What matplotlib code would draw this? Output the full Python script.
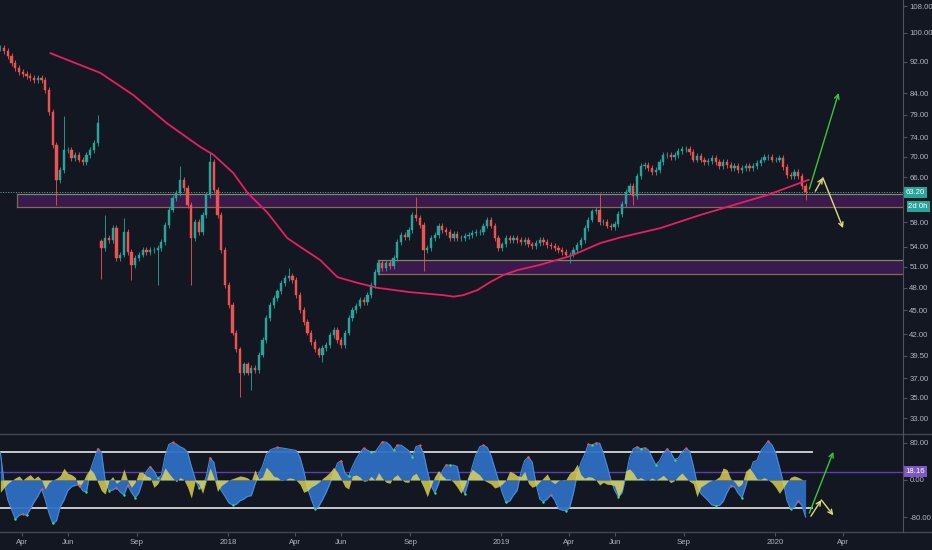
import numpy as np
import pandas as pd
import matplotlib
matplotlib.use('Agg')
import matplotlib.pyplot as plt
import matplotlib.dates as mdates
from matplotlib.lines import Line2D
from matplotlib.patches import Rectangle
from matplotlib.ticker import NullLocator

plt.rcParams['font.family'] = ['Liberation Sans', 'DejaVu Sans']

# one candle every 5 days starting 2017-03-03
closes = [95.7, 94.9, 93.5, 91.7, 90.4, 89.3, 88.8, 88.3, 87.8, 87.3,
          87.8, 87.3, 84.8, 79.6, 72.4, 65.5, 67.4, 71.4, 71.4, 69.8,
          70.4, 69.4, 69.0, 70.4, 71.4, 72.8, 77.1, 53.8, 55.4, 55.1,
          57.0, 52.3, 52.8, 56.4, 53.2, 51.3, 52.3, 52.8, 53.5, 53.2,
          53.5, 53.5, 53.8, 54.8, 57.5, 60.1, 62.2, 63.1, 65.5, 64.0,
          60.9, 55.4, 58.0, 56.4, 59.2, 62.7, 69.0, 63.6, 59.2, 53.5,
          48.4, 45.7, 42.2, 40.2, 37.6, 38.5, 37.6, 38.1, 37.9, 39.6,
          41.3, 44.0, 45.7, 46.6, 47.5, 48.7, 49.4, 49.7, 49.1, 47.0,
          45.0, 43.5, 42.2, 41.1, 40.2, 39.6, 40.4, 40.7, 41.9, 42.5,
          41.3, 40.7, 42.2, 44.0, 45.0, 45.6, 46.4, 46.1, 47.0, 48.4,
          50.2, 51.6, 50.8, 51.6, 51.1, 52.3, 54.8, 55.9, 55.6, 56.7,
          59.2, 58.7, 57.5, 53.5, 53.8, 55.4, 55.9, 57.4, 56.7, 56.4,
          55.4, 56.1, 55.4, 55.4, 55.7, 55.9, 56.2, 56.4, 56.4, 57.4,
          58.4, 57.4, 55.4, 53.8, 54.4, 55.4, 55.1, 55.4, 55.1, 54.8,
          55.1, 54.4, 54.1, 54.6, 55.1, 54.8, 54.3, 54.1, 53.8, 53.5,
          53.2, 52.8, 52.8, 53.5, 54.3, 55.1, 57.0, 58.4, 59.8, 60.1,
          58.0, 58.0, 57.4, 57.2, 57.7, 59.4, 61.1, 63.3, 64.3, 62.5,
          66.2, 68.2, 68.4, 67.8, 67.0, 67.4, 69.0, 70.4, 70.4, 70.0,
          70.4, 71.2, 71.6, 71.6, 71.0, 69.4, 70.2, 69.4, 69.0, 69.2,
          69.8, 69.0, 68.2, 69.0, 68.4, 67.8, 68.2, 67.4, 67.8, 68.2,
          67.8, 68.2, 68.8, 69.4, 70.0, 70.0, 69.4, 69.4, 69.8, 68.0,
          66.4, 66.2, 67.0, 66.2, 64.3, 63.2]
hi_spikes = {17: 78.6, 26: 79.0, 28: 59.2, 33: 58.7, 48: 68.2, 56: 70.8,
             77: 50.8, 111: 62.3, 160: 63.0}
lo_spikes = {15: 60.9, 27: 49.3, 35: 49.1, 42: 48.4, 51: 48.4, 64: 35.1,
             67: 35.8, 86: 38.8, 113: 50.4, 152: 51.6, 169: 60.9, 215: 61.8}
restarts = [27]

# moving average, position in candle steps and value
ma_idx = [13.4, 17.9, 26.7, 35.5, 44.6, 53.4, 56.9, 62.2, 66.0, 71.3, 76.6,
          80.1, 85.4, 90.0, 95.3, 100.7, 109.5, 118.3, 121.0, 123.6, 127.4,
          130.8, 134.3, 138.0, 144.2, 152.2, 160.2, 165.6, 176.2, 186.9,
          195.7, 204.8, 215.8]
ma_vals = [94.3, 92.5, 89.1, 83.6, 77.0, 72.0, 70.4, 66.8, 63.1, 59.6, 55.4,
           54.0, 52.0, 49.5, 48.7, 48.0, 47.4, 47.0, 46.8, 47.0, 47.7,
           48.8, 49.8, 50.5, 51.3, 52.6, 54.6, 55.5, 57.0, 59.2,
           60.9, 62.7, 65.5]

wt1 = [59.9, -5.7, -42.5, -63.4, -84.3, -76.4, -72.7, -76.4, -62.7, -47.5,
       -35.3, -19.4, -42.5, -71.3, -93.6, -87.9, -57.6, -43.2, -23.0, -14.4,
       -11.5, -10.0, -23.0, -26.6, 20.2, 43.3, 67.1, 59.9, -1.4, -23.0,
       -21.6, -16.5, -25.9, -32.4, -11.5, -26.6, -38.1, -27.3, -2.8, 18.1,
       28.9, 19.5, 4.4, 9.4, 51.9, 76.4, 80.8, 77.2, 71.4, 67.8,
       59.9, 29.6, 2.9, -16.5, -15.8, 8.0, 47.6, 38.2, -2.8, -23.0,
       -35.3, -49.0, -54.0, -52.6, -44.6, -41.0, -35.3, -33.8, -8.6, 13.0,
       29.6, 54.8, 64.2, 67.8, 70.0, 69.2, 67.8, 66.3, 64.9, 63.5,
       49.1, 20.2, -17.3, -41.0, -61.9, -56.9, -42.5, -26.6, -7.2, 13.0,
       36.1, 41.8, 15.2, 8.0, 28.9, 45.4, 58.4, 68.5, 64.2, 59.9,
       59.9, 70.7, 82.2, 81.5, 75.0, 64.2, 75.0, 75.0, 69.2, 63.5,
       50.5, 72.1, 74.3, 57.0, 20.2, -12.9, -27.3, -8.6, 19.5, 32.5,
       31.8, 31.8, 28.9, -8.6, -30.3, -3.6, 28.9, 54.8, 71.4, 75.0,
       70.0, 52.7, 26.0, -1.4, -27.3, -48.2, -45.4, -32.4, -22.3, 16.6,
       41.8, 49.8, 38.2, -7.2, -41.0, -46.8, -41.0, -31.7, -43.2, -61.9,
       -64.8, -66.3, -59.1, -28.8, 11.6, 36.8, 54.8, 77.2, 75.0, 79.3,
       79.3, 57.7, 30.3, 0.8, -21.6, -36.7, -27.3, 8.0, 48.3, 67.1,
       71.4, 67.1, 69.2, 64.9, 48.3, 32.5, 41.1, 57.0, 67.1, 59.1,
       44.0, 46.9, 59.9, 67.8, 62.7, 31.0, -6.4, -28.8, -36.7, -44.6,
       -54.0, -55.5, -54.7, -46.1, -27.3, -12.9, -15.1, -28.8, -38.1, -12.9,
       13.7, 39.0, 41.8, 62.7, 72.8, 83.6, 75.7, 58.4, 28.2, -3.6,
       -43.2, -62.7, -58.3, -45.4, -54.7, -80.0]
wt_diff = [-26.6, -16.5, -7.2, -1.4, 4.4, 8.7, 0.0, 6.5, 11.6, 2.9,
           8.7, 0.0, -19.4, -5.0, 0.0, 3.6, 9.4, 25.3, 14.5, 11.6,
           5.8, -15.8, -4.3, 13.0, 23.8, 14.5, -5.0, -23.0, -30.2, -1.4,
           7.3, -7.2, -1.4, 23.8, -1.4, -15.8, -5.0, 16.6, 16.6, 8.7,
           5.8, -15.8, -8.6, 7.3, 26.0, 14.5, 4.4, -3.6, 5.1, 0.8,
           -15.8, -38.9, -2.8, -8.6, -28.8, -1.4, 26.0, 5.8, -24.5, -12.2,
           -6.4, 0.0, 2.9, 5.8, 8.7, 7.3, 4.4, -1.4, 21.7, 2.2,
           6.5, 27.4, 18.8, 8.0, 5.8, -1.4, 0.0, 4.4, 3.6, -0.7,
           -9.3, -26.6, -23.0, -15.1, -10.8, -5.0, 2.9, 9.4, 16.6, 27.4,
           16.6, 2.2, -14.4, -19.4, 8.7, 10.9, 6.5, -2.8, -1.4, 8.0,
           0.0, 15.9, 3.6, -5.0, -7.2, 5.8, 11.6, 1.5, -4.3, -5.0,
           9.4, 14.5, 0.8, -15.8, -36.0, -12.2, 8.0, 20.2, 9.4, 2.2,
           2.2, -5.0, -15.8, -28.8, -12.2, 9.4, 23.1, 16.6, 10.9, 0.0,
           -4.3, -8.6, -17.3, -14.4, -8.6, 0.0, 18.8, 15.2, 9.4, 7.3,
           18.8, -7.2, -15.8, -12.2, -3.6, 4.4, 13.0, -2.1, -7.9, -1.4,
           0.8, 0.8, 14.5, 20.2, 33.9, 11.6, 3.6, 7.3, 5.8, 0.0,
           -10.8, -5.0, -9.3, -10.0, -12.2, -36.0, -21.6, 20.2, 23.8, 15.2,
           2.2, 5.1, 0.8, 0.0, 4.4, 0.0, 4.4, 10.1, 2.2, -5.7,
           -1.4, 8.0, 15.2, 5.8, -2.8, -7.9, -36.0, -15.1, -10.0, -4.3,
           -0.7, 1.5, 7.3, 26.0, 22.4, 2.9, -3.6, -14.4, -8.6, 18.8,
           26.0, 15.2, 2.2, 1.5, 5.1, 0.0, -5.7, -15.8, -28.8, -17.3,
           -5.0, 5.8, 8.7, 5.8, 1.5, -1.4]

# support zones: start date, low, high
zones = [('2017-03-25', 60.6, 62.8), ('2018-07-20', 49.9, 52.0)]

price_ticks = [108, 100, 92, 84, 79, 74, 70, 66, 58, 54, 51, 48, 45, 42, 39.5, 37, 35, 33]
last_price = 63.20
osc_ticks = [80, 0, -80]
osc_level = 18.16
ob_os = [60, -60]
month_ticks = ['2017-04-01', '2017-06-01', '2017-09-01', '2018-01-01', '2018-04-01',
               '2018-06-01', '2018-09-01', '2019-01-01', '2019-04-01', '2019-06-01',
               '2019-09-01', '2020-01-01', '2020-04-01']
month_labels = ['Apr', 'Jun', 'Sep', '2018', 'Apr', 'Jun', 'Sep', '2019', 'Apr', 'Jun',
                'Sep', '2020', 'Apr']

BG = '#131722'
TXT = '#b2b5be'
UP = '#26a69a'
DOWN = '#ef5350'
FS = 5.6

start = pd.Timestamp('2017-03-03')
dates = pd.date_range(start, periods=len(closes), freq='5D')
x = mdates.date2num(dates)
xlim = (mdates.date2num(pd.Timestamp('2017-03-02 14:00')), mdates.date2num(pd.Timestamp('2020-06-20')))

fig = plt.figure(figsize=(9.32, 5.5), dpi=100, facecolor=BG)
ax = fig.add_axes([0, 118 / 550, 903 / 932, 432 / 550], facecolor=BG)
ax2 = fig.add_axes([0, 18 / 550, 903 / 932, 98 / 550], facecolor=BG)

# candles
c = np.array(closes)
o = np.concatenate([[c[0]], c[:-1]])
for r in restarts:
    o[r] = c[r] * 1.02
top = np.maximum(o, c)
bot = np.minimum(o, c)
hi = top * 1.008
lo = bot / 1.008
for k, v in hi_spikes.items():
    hi[k] = v
for k, v in lo_spikes.items():
    lo[k] = v
cols = np.where(c >= o, UP, DOWN)
ax.vlines(x, lo, hi, colors=cols, lw=0.6, zorder=3)
ax.bar(x, top - bot, bottom=bot, width=3.0, color=cols, edgecolor=cols, lw=0.3, zorder=4)

# moving average
ma_x = mdates.date2num(start) + np.array(ma_idx) * 5
ax.plot(ma_x, ma_vals, color='#e91e63', lw=1.3, zorder=5)

# zones
for d0, z_lo, z_hi in zones:
    x0 = mdates.date2num(pd.Timestamp(d0))
    ax.add_patch(Rectangle((x0, z_lo), xlim[1] - x0, z_hi - z_lo, facecolor='#3a1a4c',
                           edgecolor='none', zorder=2))
    ax.plot([x0, xlim[1]], [z_hi, z_hi], color='#7c8a63', lw=0.9, zorder=2)
    ax.plot([x0, xlim[1]], [z_lo, z_lo], color='#8a6a4c', lw=0.9, zorder=2)
    ax.plot([x0, x0], [z_lo, z_hi], color='#7a6e58', lw=0.9, zorder=2)

ax.axhline(last_price, color='#4db6ac', lw=0.7, ls=':', zorder=2)

# arrows (annotations)
def dn(s):
    return mdates.date2num(pd.Timestamp(s))

akw = dict(arrowstyle='->', lw=1.0, mutation_scale=8, shrinkA=0, shrinkB=0)
ax.annotate('', xy=(dn('2020-03-26'), 84.1), xytext=(dn('2020-02-16'), 63.8),
            arrowprops=dict(color='#3cc43c', **akw), zorder=6)
ax.annotate('', xy=(dn('2020-03-05'), 65.9), xytext=(dn('2020-02-24'), 63.4),
            arrowprops=dict(color='#dcdc78', **akw), zorder=6)
ax.annotate('', xy=(dn('2020-04-01'), 57.0), xytext=(dn('2020-03-05'), 65.9),
            arrowprops=dict(color='#dcdc78', **akw), zorder=6)

ax.set_yscale('log')
ax.set_ylim(31.7, 109.9)
ax.set_xlim(*xlim)
ax.set_yticks(price_ticks)
ax.set_yticklabels([f'{t:.2f}' for t in price_ticks])
ax.yaxis.set_minor_locator(NullLocator())
ax.yaxis.tick_right()
ax.tick_params(axis='y', colors='#50535e', labelcolor=TXT, labelsize=FS, length=3, pad=1.5)
ax.set_xticks([])
for s in ax.spines.values():
    s.set_visible(False)

tb = dict(boxstyle='square,pad=0.25', facecolor=UP, edgecolor='none')
ax.text(1.003, last_price, f'{last_price:.2f}', transform=ax.get_yaxis_transform(),
        color='white', fontsize=FS, va='center', ha='left', bbox=tb)
ax.annotate('2d 0h', xy=(1.003, last_price), xycoords=ax.get_yaxis_transform(),
            xytext=(2, -10), textcoords='offset points', color='white', fontsize=FS,
            va='center', ha='left', bbox=tb)

# oscillator panel
w = np.array(wt1)
ax2.fill_between(x, 0, w, color='#2e6fc2', alpha=0.95, lw=0, zorder=2)
ax2.plot(x, w, color='#4a8ad8', lw=0.8, zorder=3)
ax2.fill_between(x, 0, wt_diff, color='#e6da55', alpha=0.8, lw=0, zorder=4)
peaks = [i for i in range(1, len(w) - 1) if w[i] > w[i - 1] and w[i] >= w[i + 1]]
troughs = [i for i in range(1, len(w) - 1) if w[i] < w[i - 1] and w[i] <= w[i + 1]]
ax2.scatter(x[peaks], w[peaks], s=3, color='#ff4a4a', zorder=5, lw=0)
ax2.scatter(x[troughs], w[troughs], s=3, color='#2ee86a', zorder=5, lw=0)

x_end = mdates.date2num(dates[-1] + pd.Timedelta(days=8))
for lv in ob_os:
    ax2.plot([xlim[0], x_end], [lv, lv], color='#c9c9cc', lw=1.4, zorder=1)
ax2.axhline(osc_level, color='#5e3fb0', lw=1.0, zorder=1)

ax2.annotate('', xy=(dn('2020-03-19'), 60.5), xytext=(dn('2020-02-16'), -71),
             arrowprops=dict(color='#3cc43c', **akw), zorder=6)
ax2.annotate('', xy=(dn('2020-03-03'), -43), xytext=(dn('2020-02-18'), -78),
             arrowprops=dict(color='#dcdc78', **akw), zorder=6)
ax2.annotate('', xy=(dn('2020-03-19'), -76), xytext=(dn('2020-03-03'), -43),
             arrowprops=dict(color='#dcdc78', **akw), zorder=6)

ax2.set_xlim(*xlim)
ax2.set_ylim(-112, 99)
ax2.set_yticks(osc_ticks)
ax2.set_yticklabels([f'{t:.2f}' for t in osc_ticks])
ax2.yaxis.tick_right()
ax2.tick_params(axis='y', colors='#50535e', labelcolor=TXT, labelsize=FS, length=3, pad=1.5)
ax2.set_xticks(mdates.date2num(pd.to_datetime(month_ticks)))
ax2.set_xticklabels(month_labels)
ax2.tick_params(axis='x', colors='#50535e', labelcolor=TXT, labelsize=FS, length=3, pad=2)
for s in ax2.spines.values():
    s.set_visible(False)
ax2.text(1.003, osc_level, f'{osc_level:.2f}', transform=ax2.get_yaxis_transform(),
         color='white', fontsize=FS, va='center', ha='left',
         bbox=dict(boxstyle='square,pad=0.25', facecolor='#7e57c2', edgecolor='none'))

# panel separators and price scale border
for yy in (1 - 434 / 550, 1 - 532 / 550):
    fig.add_artist(Line2D([0, 1], [yy, yy], color='#434651', lw=1.0))
fig.add_artist(Line2D([903 / 932, 903 / 932], [1 - 532 / 550, 1], color='#50535e', lw=0.8))

fig.savefig('out.png', dpi=100, facecolor=BG)
